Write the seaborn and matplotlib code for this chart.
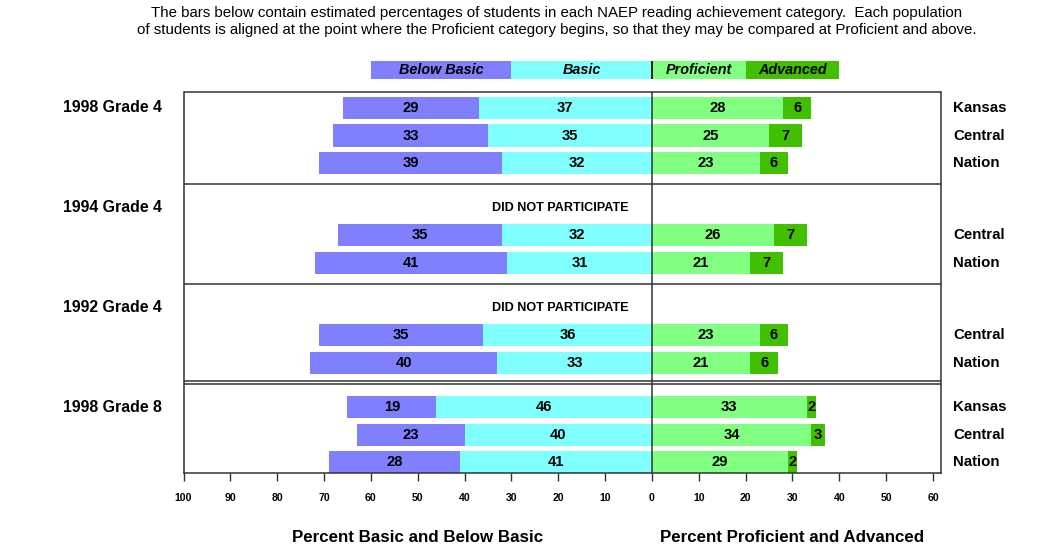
import numpy as np
import pandas as pd
import matplotlib
matplotlib.use('Agg')
import matplotlib.pyplot as plt
import matplotlib.transforms as mtransforms
import seaborn as sns


# estimated percentages, top to bottom
groups = ['1998 Grade 4', '1994 Grade 4', '1992 Grade 4', '1998 Grade 8']
jurisdictions = [['Kansas', 'Central', 'Nation'],
                 ['Central', 'Nation'],
                 ['Central', 'Nation'],
                 ['Kansas', 'Central', 'Nation']]
did_not_participate = [False, True, True, False]

below_basic = [[29, 33, 39], [35, 41], [35, 40], [19, 23, 28]]
basic = [[37, 35, 32], [32, 31], [36, 33], [46, 40, 41]]
proficient = [[28, 25, 23], [26, 21], [23, 21], [33, 34, 29]]
advanced = [[6, 7, 6], [7, 7], [6, 6], [2, 3, 2]]

legend_labels = ['Below Basic', 'Basic', 'Proficient', 'Advanced']
x_ticks = list(range(-100, 61, 10))

C_BELOW = '#8080FF'
C_BASIC = '#80FFFF'
C_PROF = '#80FF80'
C_ADV = '#40C000'
LINE = '#333333'

sns.set_theme(style='white')
plt.rcParams['font.family'] = ['Liberation Sans', 'DejaVu Sans']
plt.rcParams['text.color'] = 'black'
plt.rcParams['xtick.color'] = 'black'
plt.rcParams['axes.labelcolor'] = 'black'

# build rows with vertical positions (one unit per row, extra gap per panel)
GAP = 0.62
rows = []
group_label_y = []
separators = []
r = 0
for p, g in enumerate(groups):
    first = r + GAP * p
    group_label_y.append(first)
    if did_not_participate[p]:
        r += 1
    for j, name in enumerate(jurisdictions[p]):
        rows.append(dict(group=g, jur=name, ypos=r + GAP * p,
                         below=below_basic[p][j], basic=basic[p][j],
                         prof=proficient[p][j], adv=advanced[p][j]))
        r += 1
    separators.append((r - 1 + GAP * p, r + GAP * (p + 1)))

df = pd.DataFrame(rows)
df['left_total'] = -(df['below'] + df['basic'])
df['left_basic'] = -df['basic']
df['right_total'] = df['prof'] + df['adv']

fig = plt.figure(figsize=(10.47, 5.5), dpi=100)
ax = fig.add_axes([0.1753, 0.1391, 0.7230, 0.7649])

y_top = -0.58
y_bot = df['ypos'].max() + 0.40

layers = [('left_total', C_BELOW), ('left_basic', C_BASIC),
          ('right_total', C_ADV), ('prof', C_PROF)]
for col, c in layers:
    sns.barplot(data=df, x=col, y='ypos', orient='y', native_scale=True,
                color=c, saturation=1, width=0.8, errorbar=None,
                linewidth=0, ax=ax)

# numbers inside segments
for _, row in df.iterrows():
    y = row['ypos']
    kw = dict(ha='center', va='center', fontsize=10.6, fontweight='bold', color='black')
    ax.text(-(row['basic'] + row['below'] / 2), y, str(row['below']), **kw)
    ax.text(-row['basic'] / 2, y, str(row['basic']), **kw)
    ax.text(row['prof'] / 2, y, str(row['prof']), **kw)
    ax.text(row['prof'] + row['adv'] / 2, y, str(row['adv']), **kw)
    ax.text(64.3, y, row['jur'], ha='left', va='center', fontsize=10.8,
            fontweight='bold', clip_on=False)

for p, g in enumerate(groups):
    ax.text(-125.7, group_label_y[p], g, ha='left', va='center', fontsize=11.4,
            fontweight='bold', clip_on=False)
    if did_not_participate[p]:
        ax.text(-19.5, group_label_y[p], 'DID NOT PARTICIPATE', ha='center',
                va='center', fontsize=9.1, fontweight='bold')

# legend strip above the panels
leg_y = -1.38
leg_edges = [-60, -30, 0, 20, 40]
leg_colors = [C_BELOW, C_BASIC, C_PROF, C_ADV]
for i, lab in enumerate(legend_labels):
    ax.barh(leg_y, leg_edges[i + 1] - leg_edges[i], left=leg_edges[i],
            height=0.65, color=leg_colors[i], linewidth=0)
    ax.text((leg_edges[i] + leg_edges[i + 1]) / 2, leg_y, lab, ha='center',
            va='center', fontsize=10.4, fontweight='bold', style='italic')
ax.vlines(0, leg_y - 0.325, leg_y + 0.325, color='black', lw=1.2)

# panel frame
xmin, xmax = -100, 61.6
ax.set_xlim(xmin, xmax)
ax.set_ylim(y_bot, -2.0)
ax.hlines(y_top, xmin, xmax, color=LINE, lw=1.1)
for last, nxt in separators[:-1]:
    mid = (last + nxt) / 2 - 0.05
    ax.hlines(mid, xmin, xmax, color=LINE, lw=1.1)
# double rule before the grade 8 panel
last, nxt = separators[2]
ax.hlines((last + nxt) / 2 - 0.16, xmin, xmax, color=LINE, lw=1.1)
ax.vlines(0, y_top, y_bot, color=LINE, lw=1.1)

ax.spines['top'].set_visible(False)
for s in ['left', 'right', 'bottom']:
    ax.spines[s].set_visible(True)
    ax.spines[s].set_color(LINE)
    ax.spines[s].set_linewidth(1.1)
ax.spines['left'].set_bounds(y_bot, y_top)
ax.spines['right'].set_bounds(y_bot, y_top)

ax.set_yticks([])
ax.set_xticks(x_ticks)
ax.set_xticklabels([str(abs(t)) for t in x_ticks], fontsize=7.6, fontweight='bold')
ax.tick_params(axis='x', direction='out', length=6, width=1, color=LINE,
               pad=8, bottom=True, labelcolor='black')
ax.set_xlabel('')
ax.set_ylabel('')

trans = mtransforms.blended_transform_factory(ax.transData, fig.transFigure)
ax.text(-50, 1 - 537 / 550, 'Percent Basic and Below Basic', transform=trans,
        ha='center', va='center', fontsize=12.2, fontweight='bold')
ax.text(30, 1 - 537 / 550, 'Percent Proficient and Advanced', transform=trans,
        ha='center', va='center', fontsize=12.2, fontweight='bold')

fig.text(0.532, 1 - 13 / 550,
         'The bars below contain estimated percentages of students in each NAEP reading '
         'achievement category.  Each population',
         ha='center', va='center', fontsize=10.85)
fig.text(0.532, 1 - 30 / 550,
         'of students is aligned at the point where the Proficient category begins, '
         'so that they may be compared at Proficient and above.',
         ha='center', va='center', fontsize=10.85)

fig.savefig('out.png', dpi=100)
